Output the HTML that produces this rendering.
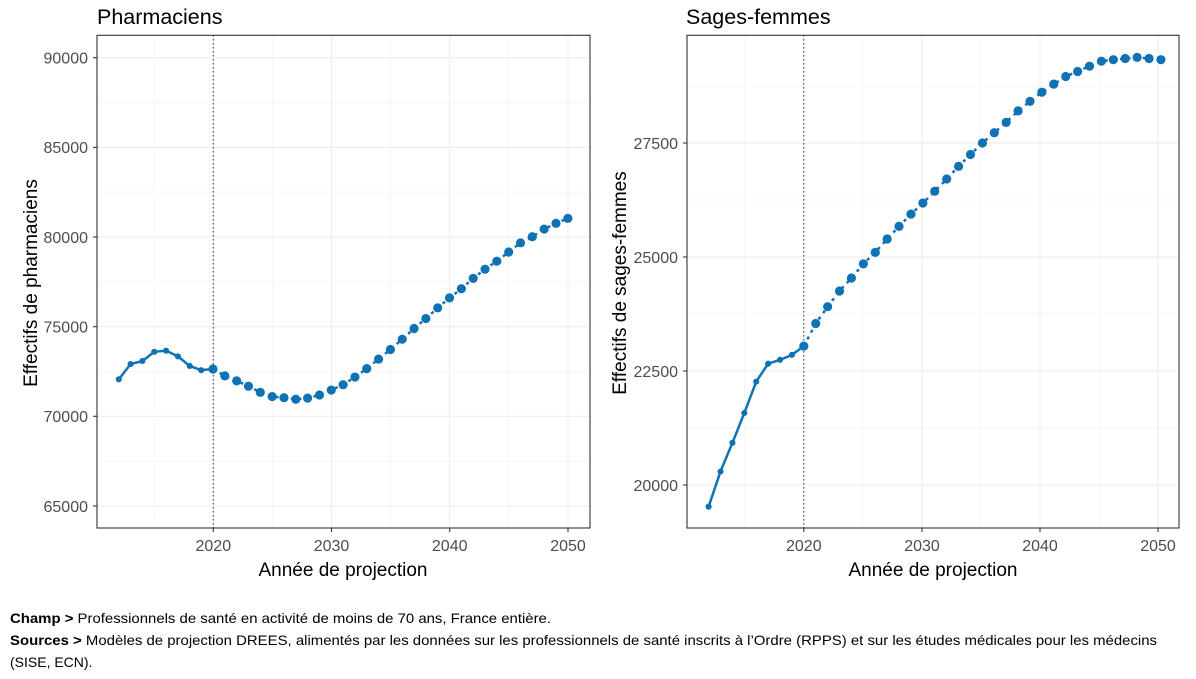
<!DOCTYPE html>
<html><head><meta charset="utf-8"><style>
html,body{margin:0;padding:0;background:#fff;}
svg{display:block;font-family:"Liberation Sans",Arial,sans-serif;}
.tk{font-size:16px;fill:#4d4d4d;}
.gmaj{stroke:#ebebeb;stroke-width:1;}
.gmin{stroke:#f3f3f3;stroke-width:0.8;}
</style></head><body>
<svg width="1196" height="679" viewBox="0 0 1196 679" xmlns="http://www.w3.org/2000/svg">
<rect width="1196" height="679" fill="#fff"/>
<!-- LEFT PANEL -->
<g>
<g class="gmin">
<line x1="154.2" y1="35" x2="154.2" y2="528"/><line x1="272.4" y1="35" x2="272.4" y2="528"/><line x1="390.6" y1="35" x2="390.6" y2="528"/><line x1="508.8" y1="35" x2="508.8" y2="528"/>
<line x1="97" y1="102.5" x2="590" y2="102.5"/><line x1="97" y1="192.2" x2="590" y2="192.2"/><line x1="97" y1="281.9" x2="590" y2="281.9"/><line x1="97" y1="371.5" x2="590" y2="371.5"/><line x1="97" y1="461.2" x2="590" y2="461.2"/>
</g>
<g class="gmaj">
<line x1="213.3" y1="35" x2="213.3" y2="528"/><line x1="331.5" y1="35" x2="331.5" y2="528"/><line x1="449.7" y1="35" x2="449.7" y2="528"/><line x1="568" y1="35" x2="568" y2="528"/>
<line x1="97" y1="57.7" x2="590" y2="57.7"/><line x1="97" y1="147.4" x2="590" y2="147.4"/><line x1="97" y1="237" x2="590" y2="237"/><line x1="97" y1="326.7" x2="590" y2="326.7"/><line x1="97" y1="416.3" x2="590" y2="416.3"/><line x1="97" y1="506" x2="590" y2="506"/>
</g>
<line x1="213.3" y1="35" x2="213.3" y2="528" stroke="#333" stroke-width="1" stroke-dasharray="1.5,2.5"/>
<g transform="scale(0.3824)">
<polyline fill="none" stroke="#0f72b4" stroke-width="6.5" stroke-linejoin="round" points="310.6,992 341.5,952 372.4,944 403.4,920 434.3,917 465.2,932 496.1,957 526.1,968 557,965"/>
<polyline fill="none" stroke="#0f72b4" stroke-width="6.5" stroke-dasharray="8,12" points="557,965 587.9,983 618.9,996 649.8,1010 680.7,1026 711.7,1037 742.6,1040 773.5,1044 804.4,1041 835.4,1033 866.3,1020 897.2,1006 928.2,986 959.1,964 990,939 1021,914 1051.9,887 1082.8,859 1113.7,833 1144.7,805 1175.6,779 1206.5,755 1237.5,728 1268.4,704 1299.3,683 1330.3,659 1361.2,635 1392.1,619 1423,599 1454,584 1485,571"/>
<g fill="#0f72b4">
<circle cx="310.6" cy="992" r="8"/><circle cx="341.5" cy="952" r="8"/><circle cx="372.4" cy="944" r="8"/><circle cx="403.4" cy="920" r="8"/><circle cx="434.3" cy="917" r="8"/><circle cx="465.2" cy="932" r="8"/><circle cx="496.1" cy="957" r="8"/><circle cx="526.1" cy="968" r="8"/>
<circle cx="557" cy="965" r="12"/><circle cx="587.9" cy="983" r="12"/><circle cx="618.9" cy="996" r="12"/><circle cx="649.8" cy="1010" r="12"/><circle cx="680.7" cy="1026" r="12"/><circle cx="711.7" cy="1037" r="12"/><circle cx="742.6" cy="1040" r="12"/><circle cx="773.5" cy="1044" r="12"/><circle cx="804.4" cy="1041" r="12"/><circle cx="835.4" cy="1033" r="12"/><circle cx="866.3" cy="1020" r="12"/><circle cx="897.2" cy="1006" r="12"/><circle cx="928.2" cy="986" r="12"/><circle cx="959.1" cy="964" r="12"/><circle cx="990" cy="939" r="12"/><circle cx="1021" cy="914" r="12"/><circle cx="1051.9" cy="887" r="12"/><circle cx="1082.8" cy="859" r="12"/><circle cx="1113.7" cy="833" r="12"/><circle cx="1144.7" cy="805" r="12"/><circle cx="1175.6" cy="779" r="12"/><circle cx="1206.5" cy="755" r="12"/><circle cx="1237.5" cy="728" r="12"/><circle cx="1268.4" cy="704" r="12"/><circle cx="1299.3" cy="683" r="12"/><circle cx="1330.3" cy="659" r="12"/><circle cx="1361.2" cy="635" r="12"/><circle cx="1392.1" cy="619" r="12"/><circle cx="1423" cy="599" r="12"/><circle cx="1454" cy="584" r="12"/><circle cx="1485" cy="571" r="12"/>
</g></g>
<rect x="97" y="35.3" width="493" height="492.7" fill="none" stroke="#333" stroke-width="1.1"/>
<g stroke="#333" stroke-width="1.1">
<line x1="93" y1="57.7" x2="97" y2="57.7"/><line x1="93" y1="147.4" x2="97" y2="147.4"/><line x1="93" y1="237" x2="97" y2="237"/><line x1="93" y1="326.7" x2="97" y2="326.7"/><line x1="93" y1="416.3" x2="97" y2="416.3"/><line x1="93" y1="506" x2="97" y2="506"/>
<line x1="213.3" y1="528" x2="213.3" y2="532"/><line x1="331.5" y1="528" x2="331.5" y2="532"/><line x1="449.7" y1="528" x2="449.7" y2="532"/><line x1="568" y1="528" x2="568" y2="532"/>
</g>
<g class="tk" text-anchor="end">
<text x="88" y="63.5">90000</text><text x="88" y="153.2">85000</text><text x="88" y="242.8">80000</text><text x="88" y="332.5">75000</text><text x="88" y="422.1">70000</text><text x="88" y="511.8">65000</text>
</g>
<g class="tk" text-anchor="middle">
<text x="213.3" y="551">2020</text><text x="331.5" y="551">2030</text><text x="449.7" y="551">2040</text><text x="568" y="551">2050</text>
</g>
<text x="343" y="576" font-size="19" text-anchor="middle" fill="#000">Année de projection</text>
<text transform="translate(37,283) rotate(-90)" font-size="19" text-anchor="middle" fill="#000">Effectifs de pharmaciens</text>
<text x="97" y="24" font-size="21.5" fill="#000">Pharmaciens</text>
</g>
<!-- RIGHT PANEL -->
<g>
<g class="gmin">
<line x1="744.7" y1="35" x2="744.7" y2="528"/><line x1="862.9" y1="35" x2="862.9" y2="528"/><line x1="981" y1="35" x2="981" y2="528"/><line x1="1099" y1="35" x2="1099" y2="528"/>
<line x1="687" y1="86" x2="1179" y2="86"/><line x1="687" y1="200" x2="1179" y2="200"/><line x1="687" y1="314" x2="1179" y2="314"/><line x1="687" y1="428" x2="1179" y2="428"/>
</g>
<g class="gmaj">
<line x1="803.8" y1="35" x2="803.8" y2="528"/><line x1="922" y1="35" x2="922" y2="528"/><line x1="1040" y1="35" x2="1040" y2="528"/><line x1="1158" y1="35" x2="1158" y2="528"/>
<line x1="687" y1="143" x2="1179" y2="143"/><line x1="687" y1="257" x2="1179" y2="257"/><line x1="687" y1="371" x2="1179" y2="371"/><line x1="687" y1="485" x2="1179" y2="485"/>
</g>
<line x1="803.8" y1="35" x2="803.8" y2="528" stroke="#333" stroke-width="1" stroke-dasharray="1.5,2.5"/>
<g transform="translate(600,0) scale(0.3824)">
<polyline fill="none" stroke="#0f72b4" stroke-width="6.5" stroke-linejoin="round" points="284,1325 315.1,1233 346.3,1158 377.4,1080 408.5,998 439.7,951 470.8,941 501.9,928 533,905"/>
<polyline fill="none" stroke="#0f72b4" stroke-width="6.5" stroke-dasharray="8,12" points="533,905 564.1,846 595.3,802 626.4,761 657.5,727 688.7,690 719.8,660 750.9,625 782,592 813.2,560 844.3,531 875.4,500 906.6,468 937.7,435 968.8,404 1000,374 1031.1,347 1062.2,320 1093.3,290 1124.5,265 1155.6,241 1186.7,220 1217.9,200 1249,187 1280.1,173 1311.3,160 1342.4,156 1373.5,153 1404.6,150 1435.8,153 1466.9,156"/>
<g fill="#0f72b4">
<circle cx="284" cy="1325" r="8"/><circle cx="315.1" cy="1233" r="8"/><circle cx="346.3" cy="1158" r="8"/><circle cx="377.4" cy="1080" r="8"/><circle cx="408.5" cy="998" r="8"/><circle cx="439.7" cy="951" r="8"/><circle cx="470.8" cy="941" r="8"/><circle cx="501.9" cy="928" r="8"/>
<circle cx="533" cy="905" r="12"/><circle cx="564.1" cy="846" r="12"/><circle cx="595.3" cy="802" r="12"/><circle cx="626.4" cy="761" r="12"/><circle cx="657.5" cy="727" r="12"/><circle cx="688.7" cy="690" r="12"/><circle cx="719.8" cy="660" r="12"/><circle cx="750.9" cy="625" r="12"/><circle cx="782" cy="592" r="12"/><circle cx="813.2" cy="560" r="12"/><circle cx="844.3" cy="531" r="12"/><circle cx="875.4" cy="500" r="12"/><circle cx="906.6" cy="468" r="12"/><circle cx="937.7" cy="435" r="12"/><circle cx="968.8" cy="404" r="12"/><circle cx="1000" cy="374" r="12"/><circle cx="1031.1" cy="347" r="12"/><circle cx="1062.2" cy="320" r="12"/><circle cx="1093.3" cy="290" r="12"/><circle cx="1124.5" cy="265" r="12"/><circle cx="1155.6" cy="241" r="12"/><circle cx="1186.7" cy="220" r="12"/><circle cx="1217.9" cy="200" r="12"/><circle cx="1249" cy="187" r="12"/><circle cx="1280.1" cy="173" r="12"/><circle cx="1311.3" cy="160" r="12"/><circle cx="1342.4" cy="156" r="12"/><circle cx="1373.5" cy="153" r="12"/><circle cx="1404.6" cy="150" r="12"/><circle cx="1435.8" cy="153" r="12"/><circle cx="1466.9" cy="156" r="12"/>
</g></g>
<rect x="687" y="35.3" width="492" height="492.7" fill="none" stroke="#333" stroke-width="1.1"/>
<g stroke="#333" stroke-width="1.1">
<line x1="683" y1="143" x2="687" y2="143"/><line x1="683" y1="257" x2="687" y2="257"/><line x1="683" y1="371" x2="687" y2="371"/><line x1="683" y1="485" x2="687" y2="485"/>
<line x1="803.8" y1="528" x2="803.8" y2="532"/><line x1="922" y1="528" x2="922" y2="532"/><line x1="1040" y1="528" x2="1040" y2="532"/><line x1="1158" y1="528" x2="1158" y2="532"/>
</g>
<g class="tk" text-anchor="end">
<text x="678" y="148.8">27500</text><text x="678" y="262.8">25000</text><text x="678" y="376.8">22500</text><text x="678" y="490.8">20000</text>
</g>
<g class="tk" text-anchor="middle">
<text x="803.8" y="551">2020</text><text x="922" y="551">2030</text><text x="1040" y="551">2040</text><text x="1158" y="551">2050</text>
</g>
<text x="933" y="576" font-size="19" text-anchor="middle" fill="#000">Année de projection</text>
<text transform="translate(626,283) rotate(-90)" font-size="19" text-anchor="middle" fill="#000">Effectifs de sages-femmes</text>
<text x="686" y="24" font-size="21.5" fill="#000">Sages-femmes</text>
</g>
<!-- FOOTER -->
<g font-family="'Liberation Sans Narrow','Liberation Sans',Arial,sans-serif" font-size="14" fill="#000">
<text x="10" y="623" textLength="541" lengthAdjust="spacingAndGlyphs"><tspan font-weight="bold">Champ &gt;</tspan> Professionnels de santé en activité de moins de 70 ans, France entière.</text>
<text x="10" y="645" textLength="1147" lengthAdjust="spacingAndGlyphs"><tspan font-weight="bold">Sources &gt;</tspan> Modèles de projection DREES, alimentés par les données sur les professionnels de santé inscrits à l’Ordre (RPPS) et sur les études médicales pour les médecins</text>
<text x="10" y="667">(SISE, ECN).</text>
</g>
</svg>
</body></html>
